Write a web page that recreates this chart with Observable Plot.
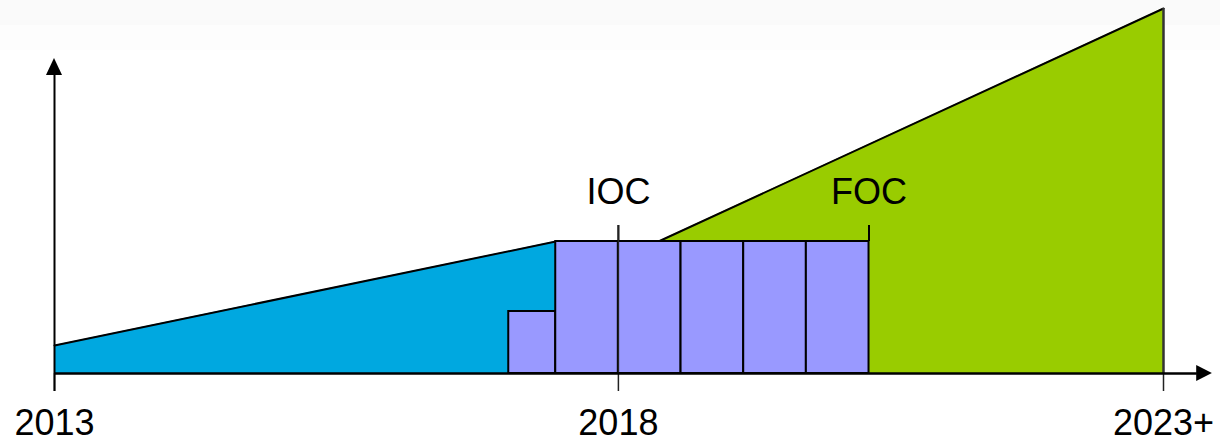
<!DOCTYPE html>
<html>
<head>
<meta charset="utf-8">
<script src="https://cdn.jsdelivr.net/npm/d3@7"></script>
<script src="https://cdn.jsdelivr.net/npm/@observablehq/plot@0.6"></script>
<style>
  html, body { margin: 0; padding: 0; background: white; }
  #chart { width: 1220px; height: 442px;
    background: linear-gradient(#fafafa 0px, #fafafa 25px, #fdfdfd 25px, #fdfdfd 50px, #ffffff 50px); }
</style>
</head>
<body>
<div id="chart"></div>
<script>
// x in half-year-ish steps from 2013, y in arbitrary capability units
const tickPositions = [0, 9, 17.7];
const tickLabels = ["2013", "2018", "2023+"];

const blueX = [0, 8];
const blueY = [28, 132];

const barStarts = [7.25, 8, 9, 10, 11, 12];
const barEnds = [8, 9, 10, 11, 12, 13];
const barValues = [62, 132, 132, 132, 132, 132];

const greenX = [9.64, 17.7];
const greenY = [132, 365];

const milestoneLabels = ["IOC", "FOC"];
const milestoneX = [9, 13];
const milestoneLevel = [132, 132];

const blue = blueX.map((x, i) => ({x, y: blueY[i]}));
const green = greenX.map((x, i) => ({x, y: greenY[i]}));
const bars = barStarts.map((x1, i) => ({x1, x2: barEnds[i], y: barValues[i]}));
const ticks = tickPositions.map((x, i) => ({x, label: tickLabels[i]}));
const milestones = milestoneLabels.map((label, i) => ({x: milestoneX[i], y: milestoneLevel[i], label}));

const xMax = 17.7;
const arrowRight = [{x: 18.23, y1: -8, y2: 8}, {x: 18.48, y1: 0, y2: 0}];
const arrowUp = [{y: 298, x1: -0.128, x2: 0.128}, {y: 315, x1: 0, x2: 0}];

const font = "Liberation Sans, Arial, sans-serif";

const chart = Plot.plot({
  width: 1220,
  height: 442,
  marginLeft: 54,
  marginRight: 57,
  marginTop: 8,
  marginBottom: 69,
  x: {domain: [0, xMax], axis: null},
  y: {domain: [0, 365], axis: null},
  style: {background: "transparent", fontFamily: font},
  marks: [
    // green growth area
    Plot.areaY(green, {x: "x", y1: 0, y2: "y", fill: "#99cc00", curve: "linear"}),
    Plot.line(green, {x: "x", y: "y", stroke: "#000", strokeWidth: 2}),
    Plot.ruleX([green[green.length - 1]], {x: "x", y1: 0, y2: "y", stroke: "#333", strokeWidth: 2.5}),
    // blue growth area
    Plot.areaY(blue, {x: "x", y1: 0, y2: "y", fill: "#00a8e0", curve: "linear"}),
    Plot.line(blue, {x: "x", y: "y", stroke: "#000", strokeWidth: 2}),
    // bars
    Plot.rect(bars, {x1: "x1", x2: "x2", y1: 0, y2: "y", fill: "#9999ff", stroke: "#000", strokeWidth: 2}),
    // milestone ticks
    Plot.ruleX(milestones, {x: "x", y1: "y", y2: d => d.y + 16, stroke: "#000", strokeWidth: 2}),
    Plot.text(milestones, {x: "x", y: d => d.y + 48, text: "label", fontSize: 36, fill: "#000", textAnchor: "middle", lineAnchor: "middle", dy: -1}),
    // axis tick marks
    Plot.ruleX(ticks, {x: "x", y1: -18, y2: 0, stroke: "#222", strokeWidth: 1.5}),
    Plot.ruleX([ticks[1]], {x: "x", y1: 0, y2: 148, stroke: "#222", strokeWidth: 1.5}),
    Plot.text(ticks, {x: "x", y: -49.5, text: "label", fontSize: 36, fill: "#000", textAnchor: "middle", lineAnchor: "middle"}),
    // axes
    Plot.ruleY([0], {x1: 0, x2: 18.24, stroke: "#000", strokeWidth: 2.5}),
    Plot.ruleX([0], {y1: -18, y2: 299, stroke: "#000", strokeWidth: 2}),
    Plot.areaY(arrowRight, {x: "x", y1: "y1", y2: "y2", fill: "#000", curve: "linear"}),
    Plot.areaX(arrowUp, {y: "y", x1: "x1", x2: "x2", fill: "#000", curve: "linear"})
  ]
});
document.getElementById("chart").appendChild(chart);
</script>
</body>
</html>
